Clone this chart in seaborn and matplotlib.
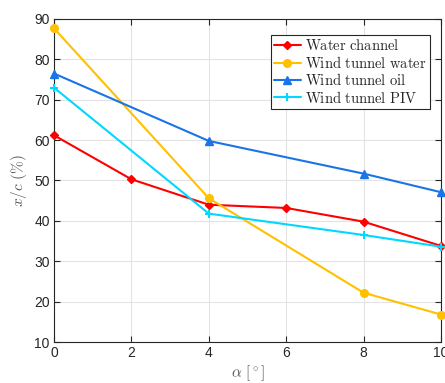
import matplotlib
matplotlib.use("Agg")
import matplotlib.pyplot as plt
import seaborn as sns
import pandas as pd

# Data
alpha_wc = [0, 2, 4, 6, 8, 10]
water_channel = [61.2, 50.3, 44.0, 43.2, 39.8, 33.8]
alpha_wt = [0, 4, 8, 10]
wind_tunnel_water = [87.7, 45.6, 22.2, 16.8]
wind_tunnel_oil = [76.5, 59.8, 51.7, 47.1]
wind_tunnel_piv = [73.0, 41.8, 36.5, 33.6]

labels = ["Water channel", "Wind tunnel water", "Wind tunnel oil", "Wind tunnel PIV"]
xticks = [0, 2, 4, 6, 8, 10]
yticks = [10, 20, 30, 40, 50, 60, 70, 80, 90]

sns.set_theme(style="white")
plt.rcParams['font.family'] = ['Liberation Sans', 'DejaVu Sans']
plt.rcParams['mathtext.fontset'] = 'cm'

fig = plt.figure(figsize=(4.45, 3.83), dpi=100)
ax = fig.add_axes([54/445, 1-342/383, 387/445, 323/383])

series = [
    (alpha_wc, water_channel, labels[0], "#FF0000", "D", 4.5),
    (alpha_wt, wind_tunnel_water, labels[1], "#FFC000", "o", 5.5),
    (alpha_wt, wind_tunnel_oil, labels[2], "#1A74E8", "^", 5.5),
    (alpha_wt, wind_tunnel_piv, labels[3], "#00D8FF", "+", 6),
]
for xs, ys, lab, col, mk, ms in series:
    df = pd.DataFrame({"x": xs, "y": ys})
    sns.lineplot(data=df, x="x", y="y", ax=ax, color=col, marker=mk,
                 markersize=ms, markeredgecolor=col, markerfacecolor=col,
                 markeredgewidth=1.5 if mk == "+" else 1.0,
                 linewidth=1.5, label=r"$\mathrm{" + lab.replace(" ", r"\ ") + "}$",
                 clip_on=False, zorder=3)

ax.set_xlim(0, 10)
ax.set_ylim(10, 90)
ax.set_xticks(xticks)
ax.set_yticks(yticks)
ax.grid(True, color="#e3e3e3", linewidth=0.8)
ax.set_axisbelow(True)
for s in ax.spines.values():
    s.set_color("#262626")
    s.set_linewidth(0.8)
ax.tick_params(direction="in", length=4, width=0.8, colors="#262626",
               labelsize=10, top=True, right=True, bottom=True, left=True,
               labeltop=False, labelright=False, pad=3)
ax.set_xlabel(r"$\alpha\ [^\circ]$", fontsize=11, color="#555555", labelpad=2)
ax.set_ylabel(r"$x/c\ (\%)$", fontsize=11, color="#555555", labelpad=4)

leg = ax.legend(loc="upper left", bbox_to_anchor=(0.56, 0.952), fontsize=10.5,
                frameon=True, fancybox=False, framealpha=1, edgecolor="#262626",
                handlelength=1.8, handletextpad=0.3, borderpad=0.25,
                labelspacing=0.1, borderaxespad=0)
leg.get_frame().set_linewidth(0.8)

fig.savefig("out.png", dpi=100)
